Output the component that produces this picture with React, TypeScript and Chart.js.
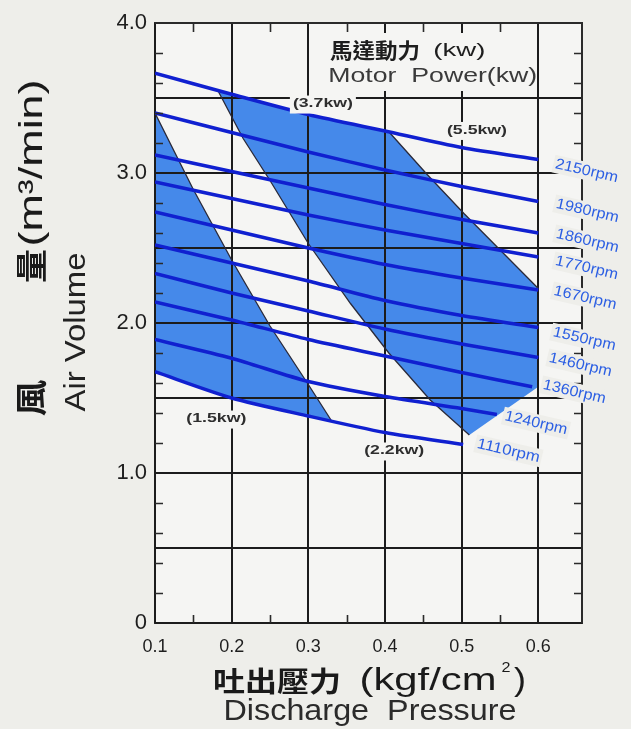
import React, { useEffect, useRef } from "react";
import { Chart, registerables } from "chart.js";
Chart.register(...registerables);

// ---- axes ----
const xTickValues = [0.1, 0.2, 0.3, 0.4, 0.5, 0.6];
const yGridValues = [0, 0.5, 1, 1.5, 2, 2.5, 3, 3.5, 4];
const xMinorTicks = [0.15, 0.25, 0.35, 0.45, 0.55];
const yMinorTicks = [0.2, 0.4, 0.6, 0.8, 1.2, 1.4, 1.6, 1.8, 2.2, 2.4, 2.6, 2.8, 3.2, 3.4, 3.6, 3.8];

// ---- rpm curves: [pressure kgf/cm2, air volume m3/min] ----
const rpm2150 = [[0.1, 3.665], [0.2, 3.525], [0.3, 3.39], [0.4, 3.28], [0.5, 3.17], [0.6, 3.09]];
const rpm1980 = [[0.1, 3.4], [0.2, 3.27], [0.3, 3.14], [0.4, 3.02], [0.5, 2.91], [0.6, 2.81]];
const rpm1860 = [[0.1, 3.12], [0.2, 3.01], [0.3, 2.9], [0.4, 2.79], [0.5, 2.69], [0.6, 2.6]];
const rpm1770 = [[0.1, 2.94], [0.2, 2.83], [0.3, 2.72], [0.4, 2.62], [0.5, 2.53], [0.6, 2.44]];
const rpm1670 = [[0.1, 2.74], [0.2, 2.62], [0.3, 2.5], [0.4, 2.39], [0.5, 2.3], [0.6, 2.22]];
const rpm1550 = [[0.1, 2.52], [0.2, 2.4], [0.3, 2.28], [0.4, 2.15], [0.5, 2.05], [0.6, 1.97]];
const rpm1460 = [[0.1, 2.33], [0.2, 2.2], [0.3, 2.08], [0.4, 1.96], [0.5, 1.86], [0.6, 1.77]];
const rpm1360 = [[0.1, 2.14], [0.2, 2.02], [0.3, 1.89], [0.4, 1.78], [0.5, 1.67], [0.592, 1.575]];
const rpm1240 = [[0.1, 1.89], [0.2, 1.765], [0.3, 1.61], [0.4, 1.51], [0.5, 1.43], [0.546, 1.39]];
const rpm1110 = [[0.1, 1.675], [0.2, 1.5], [0.3, 1.38], [0.4, 1.27], [0.502, 1.19]];

const rpmSeries = [rpm2150, rpm1980, rpm1860, rpm1770, rpm1670, rpm1550, rpm1460, rpm1360, rpm1240, rpm1110];
const rpmNames = ["2150rpm", "1980rpm", "1860rpm", "1770rpm", "1670rpm", "1550rpm", "1460rpm", "1360rpm", "1240rpm", "1110rpm"];
const rpmLabelPos = [[0.663, 3.013], [0.664, 2.747], [0.664, 2.547], [0.663, 2.367], [0.661, 2.167], [0.66, 1.893], [0.655, 1.72], [0.647, 1.54], [0.597, 1.333], [0.561, 1.147]];

// ---- motor power zones ----
const zoneSmall = [[0.1, 3.4], [0.15, 2.89], [0.2, 2.42], [0.25, 1.98], [0.3, 1.59], [0.33, 1.35], [0.3, 1.38], [0.2, 1.5], [0.1, 1.675], [0.1, 3.4]];
const zoneLarge = [[0.183, 3.54], [0.2, 3.525], [0.3, 3.39], [0.405, 3.275], [0.455, 2.99], [0.503, 2.73], [0.6, 2.23], [0.6, 1.575], [0.51, 1.253], [0.459, 1.487], [0.405, 1.8], [0.355, 2.13], [0.3, 2.53], [0.25, 2.95], [0.215, 3.23], [0.183, 3.54]];
// boundary lines between power ranges
const edgeSmall = zoneSmall.slice(0, 6);
const edgeLargeLeft = zoneLarge.slice(8);
const edgeLargeRight = zoneLarge.slice(3, 7);

const kwLabels = ["(1.5kw)", "(2.2kw)", "(3.7kw)", "(5.5kw)"];
const kwLabelPos = [[0.18, 1.363], [0.412, 1.15], [0.319, 3.463], [0.52, 3.287]];

const PAGE_BG = "#eeeeea";
const PLOT_BG = "#f5f5f3";
const GRID = "#1c1c1c";
const LINE_BLUE = "#1020d0";
const FILL_BLUE = "#4589ea";
const LABEL_BLUE = "#2c5fe3";
const SANS = '"Liberation Sans", Arial, sans-serif';
const CJK = '"Noto Sans CJK TC", "Noto Sans CJK SC", sans-serif';

function fitText(ctx: CanvasRenderingContext2D, text: string, font: string, color: string, cx: number, cy: number, width: number, angle = 0) {
  ctx.save();
  ctx.font = font;
  const w = ctx.measureText(text).width || 1;
  ctx.translate(cx, cy);
  ctx.rotate(angle);
  ctx.scale(width / w, 1);
  ctx.textAlign = "center";
  ctx.textBaseline = "middle";
  ctx.fillStyle = color;
  ctx.fillText(text, 0, 0);
  ctx.restore();
}

function toPts(arr: number[][]) {
  return arr.map(([x, y]) => ({ x, y }));
}

function drawGridOver(chart: any) {
  const { ctx, chartArea, scales } = chart;
  ctx.save();
  ctx.strokeStyle = GRID;
  ctx.lineWidth = 2;
  ctx.beginPath();
  for (const v of xTickValues) {
    const px = Math.round(scales.x.getPixelForValue(v));
    ctx.moveTo(px, chartArea.top);
    ctx.lineTo(px, chartArea.bottom);
  }
  for (const v of yGridValues) {
    const py = Math.round(scales.y.getPixelForValue(v));
    ctx.moveTo(chartArea.left, py);
    ctx.lineTo(chartArea.right, py);
  }
  ctx.stroke();
  ctx.restore();
}

const decorPlugin = {
  id: "decor",
  beforeDraw(chart: any) {
    const { ctx, chartArea, width, height } = chart;
    ctx.save();
    ctx.fillStyle = PAGE_BG;
    ctx.fillRect(0, 0, width, height);
    ctx.fillStyle = PLOT_BG;
    ctx.fillRect(chartArea.left, chartArea.top, chartArea.right - chartArea.left, chartArea.bottom - chartArea.top);
    ctx.restore();
  },
  afterDatasetDraw(chart: any, args: any) {
    const ds = chart.data.datasets[args.index];
    if (ds && ds.fill === "shape") drawGridOver(chart);
  },
  afterDatasetsDraw(chart: any) {
    const { ctx, chartArea, scales } = chart;
    const xs = scales.x, ys = scales.y;
    const { left, right, top, bottom } = chartArea;
    ctx.save();
    // frame
    ctx.strokeStyle = "#2a2a2a";
    ctx.lineWidth = 2;
    ctx.beginPath();
    ctx.moveTo(left, top);
    ctx.lineTo(right, top);
    ctx.lineTo(right, bottom);
    ctx.stroke();
    // minor ticks
    ctx.lineWidth = 1.6;
    ctx.beginPath();
    for (const v of xMinorTicks) {
      const px = Math.round(xs.getPixelForValue(v)) + 0.5;
      ctx.moveTo(px, bottom);
      ctx.lineTo(px, bottom - 8);
      ctx.moveTo(px, top);
      ctx.lineTo(px, top + 9);
    }
    for (const v of yMinorTicks) {
      const py = Math.round(ys.getPixelForValue(v)) + 0.5;
      ctx.moveTo(left, py);
      ctx.lineTo(left + 8, py);
      ctx.moveTo(right, py);
      ctx.lineTo(right - 8, py);
    }
    ctx.stroke();

    // title block (motor power)
    ctx.fillStyle = PLOT_BG;
    ctx.fillRect(326, 33, 210, 58);
    fitText(ctx, "馬達動力", `bold 21px ${CJK}`, "#1e1e1e", xs.getPixelForValue(0.387), ys.getPixelForValue(3.82), 90);
    fitText(ctx, "(kw)", `19px ${SANS}`, "#1e1e1e", xs.getPixelForValue(0.497), ys.getPixelForValue(3.815), 52);
    fitText(ctx, "Motor  Power(kw)", `21px ${SANS}`, "#3a3a3a", xs.getPixelForValue(0.4623), ys.getPixelForValue(3.647), 209);

    // kW labels
    kwLabels.forEach((t, i) => {
      const cx = xs.getPixelForValue(kwLabelPos[i][0]);
      const cy = ys.getPixelForValue(kwLabelPos[i][1]);
      const w = 60;
      ctx.fillStyle = PLOT_BG;
      ctx.fillRect(cx - w / 2 - 3, cy - 8, w + 6, 18);
      fitText(ctx, t, `bold 13px ${SANS}`, "#2e2e2e", cx, cy, w);
    });

    // rpm labels
    const ang = (13 * Math.PI) / 180;
    rpmNames.forEach((t, i) => {
      const cx = xs.getPixelForValue(rpmLabelPos[i][0]);
      const cy = ys.getPixelForValue(rpmLabelPos[i][1]);
      ctx.save();
      ctx.translate(cx, cy);
      ctx.rotate(ang);
      ctx.fillStyle = PAGE_BG;
      ctx.fillRect(-34, -9, 68, 18);
      ctx.restore();
    });
    rpmNames.forEach((t, i) => {
      const cx = xs.getPixelForValue(rpmLabelPos[i][0]);
      const cy = ys.getPixelForValue(rpmLabelPos[i][1]);
      fitText(ctx, t, `15px ${SANS}`, LABEL_BLUE, cx, cy, 64, ang);
    });

    // axis titles
    const rot = -Math.PI / 2;
    fitText(ctx, "風", `bold 32px ${CJK}`, "#1a1a1a", 31, 398, 37, rot);
    fitText(ctx, "量", `bold 32px ${CJK}`, "#1a1a1a", 31, 266, 34, rot);
    fitText(ctx, "(m³/min)", `34px ${SANS}`, "#1a1a1a", 33, 163, 167, rot);
    fitText(ctx, "Air Volume", `29px ${SANS}`, "#222", 77, 332, 159, rot);

    fitText(ctx, "吐出壓力", `bold 28px ${CJK}`, "#1a1a1a", 277, 681, 128);
    fitText(ctx, "(kgf/cm", `32px ${SANS}`, "#1a1a1a", 428, 681, 137);
    fitText(ctx, "2", `15px ${SANS}`, "#1a1a1a", 506, 668, 9);
    fitText(ctx, ")", `32px ${SANS}`, "#1a1a1a", 520, 681, 12);
    fitText(ctx, "Discharge  Pressure", `30px ${SANS}`, "#2b2b2b", 370, 712, 293);
    ctx.restore();
  },
};

export default function App() {
  const ref = useRef<HTMLCanvasElement>(null);
  useEffect(() => {
    if (!ref.current) return;
    const zoneDs = [zoneSmall, zoneLarge].map((z, i) => ({
      label: i === 0 ? "zone-1.5-2.2kw" : "zone-3.7-5.5kw",
      data: toPts(z),
      fill: "shape",
      backgroundColor: FILL_BLUE,
      borderColor: FILL_BLUE,
      borderWidth: 0,
      pointRadius: 0,
      tension: 0,
      order: 10 + i,
    }));
    const edgeDs = [edgeSmall, edgeLargeLeft, edgeLargeRight].map((e, i) => ({
      label: "edge" + i,
      data: toPts(e),
      fill: false,
      borderColor: "#2a2a3a",
      borderWidth: 1.3,
      pointRadius: 0,
      tension: 0,
      order: 5,
    }));
    const lineDs = rpmSeries.map((s, i) => ({
      label: rpmNames[i],
      data: toPts(s),
      fill: false,
      borderColor: LINE_BLUE,
      borderWidth: 3.5,
      pointRadius: 0,
      tension: 0.25,
      order: 0,
    }));
    const chart = new Chart(ref.current, {
      type: "line",
      data: { datasets: [...lineDs, ...edgeDs, ...zoneDs] as any },
      options: {
        responsive: false,
        animation: false,
        devicePixelRatio: 1,
        layout: { padding: { top: 23, right: 49, left: 0, bottom: 0 } },
        plugins: { legend: { display: false }, tooltip: { enabled: false }, title: { display: false } },
        scales: {
          x: {
            type: "linear",
            min: 0.1,
            max: 0.657,
            afterBuildTicks: (s: any) => {
              s.ticks = xTickValues.map((v) => ({ value: v }));
            },
            afterFit: (s: any) => {
              s.height = 106;
            },
            grid: { color: GRID, lineWidth: 2, drawTicks: false },
            border: { display: true, color: "#2a2a2a", width: 2 },
            ticks: {
              padding: 13,
              color: "#1e1e1e",
              autoSkip: false,
              maxRotation: 0,
              font: { family: SANS, size: 18 },
              callback: (v: any) => Number(v).toFixed(1),
            },
          },
          y: {
            type: "linear",
            min: 0,
            max: 4,
            afterBuildTicks: (s: any) => {
              s.ticks = yGridValues.map((v) => ({ value: v }));
            },
            afterFit: (s: any) => {
              s.width = 155;
            },
            grid: { color: GRID, lineWidth: 2, drawTicks: false },
            border: { display: true, color: "#2a2a2a", width: 2 },
            ticks: {
              padding: 8,
              color: "#1e1e1e",
              autoSkip: false,
              font: { family: SANS, size: 22 },
              callback: (v: any) => (v === 0 ? "0" : Number(v) % 1 === 0 ? Number(v).toFixed(1) : ""),
            },
          },
        },
      } as any,
      plugins: [decorPlugin],
    });
    return () => chart.destroy();
  }, []);
  return (
    <div style={{ position: "absolute", left: 0, top: 0, width: 631, height: 729, background: PAGE_BG }}>
      <canvas ref={ref} width={631} height={729} style={{ display: "block", width: 631, height: 729 }} />
    </div>
  );
}
